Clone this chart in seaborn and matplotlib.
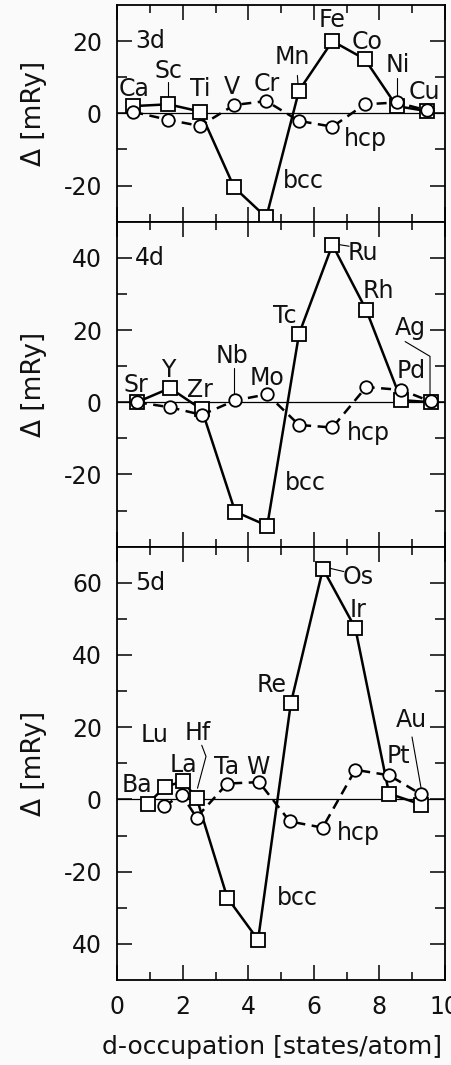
import matplotlib
matplotlib.use("Agg")
import matplotlib.pyplot as plt
import seaborn as sns

# ---------------- data ----------------
el3d = ["Ca", "Sc", "Ti", "V", "Cr", "Mn", "Fe", "Co", "Ni", "Cu"]
x3d = [0.49, 1.56, 2.53, 3.57, 4.55, 5.55, 6.57, 7.56, 8.53, 9.47]
bcc3d = [2.0, 2.5, 0.5, -20.5, -28.8, 6.3, 20.0, 15.0, 2.0, 0.6]
hcp3d = [0.4, -1.8, -3.5, 2.3, 3.4, -2.1, -3.7, 2.5, 3.0, 0.8]

el4d = ["Sr", "Y", "Zr", "Nb", "Mo", "Tc", "Ru", "Rh", "Pd", "Ag"]
x4d = [0.6, 1.61, 2.58, 3.6, 4.58, 5.55, 6.57, 7.6, 8.67, 9.57]
bcc4d = [0.0, 3.9, -2.0, -30.3, -34.2, 18.9, 43.6, 25.6, 0.6, 0.0]
hcp4d = [0.0, -1.4, -3.5, 0.5, 2.2, -6.3, -7.0, 4.2, 3.4, 0.2]

el5d = ["Ba", "Lu", "La", "Hf", "Ta", "W", "Re", "Os", "Ir", "Pt", "Au"]
x5d = [0.93, 1.46, 2.0, 2.42, 3.36, 4.3, 5.3, 6.28, 7.27, 8.3, 9.28]
bcc5d = [-1.2, 3.5, 5.0, 0.5, -27.2, -38.9, 26.6, 63.9, 47.4, 1.6, -1.4]
x5d_hcp = [1.43, 1.97, 2.42, 3.36, 4.33, 5.27, 6.27, 7.27, 8.3, 9.28]
hcp5d = [-1.9, 1.3, -5.0, 4.4, 4.8, -6.1, -7.8, 8.2, 6.7, 1.4]

panel_names = ["3d", "4d", "5d"]
ylims = [(-30, 30), (-40, 50), (-50, 70)]
ymajor = [[-20, 0, 20], [-20, 0, 20, 40], [-40, -20, 0, 20, 40, 60]]
ymajor_labels = [["-20", "0", "20"], ["-20", "0", "20", "40"],
                 ["40", "-20", "0", "20", "40", "60"]]
yminor = [[-10, 10], [-30, -10, 10, 30], [-30, -10, 10, 30, 50]]
xticks = [0, 2, 4, 6, 8, 10]
xminor = [1, 3, 5, 7, 9]

# label placement (layout)
labels = [
    {"Ca": (0.52, 6.6), "Sc": (1.55, 11.6), "Ti": (2.53, 6.6), "V": (3.5, 7.4),
     "Cr": (4.57, 8.0), "Mn": (5.34, 15.7), "Fe": (6.56, 25.9), "Co": (7.62, 19.8),
     "Ni": (8.57, 13.5), "Cu": (9.37, 5.8)},
    {"Sr": (0.58, 4.7), "Y": (1.55, 8.9), "Zr": (2.53, 3.3), "Nb": (3.5, 12.8),
     "Mo": (4.57, 6.7), "Tc": (5.12, 23.9), "Ru": (7.5, 41.4), "Rh": (7.96, 30.8),
     "Pd": (8.99, 8.6), "Ag": (8.94, 20.6)},
    {"Ba": (0.6, 3.9), "Lu": (1.15, 17.8), "La": (2.01, 9.4), "Hf": (2.47, 18.3),
     "Ta": (3.35, 8.9), "W": (4.3, 8.9), "Re": (4.72, 31.7), "Os": (7.35, 61.7),
     "Ir": (7.35, 52.5), "Pt": (8.58, 11.9), "Au": (8.99, 21.9)},
]
leaders = [
    [[(1.55, 8.8), (1.55, 4.6)], [(5.5, 10.5), (5.52, 8.0)], [(8.53, 9.8), (8.53, 4.8)]],
    [[(3.55, 9.5), (3.55, 2.2)], [(6.8, 43.6), (7.08, 43.2)],
     [(8.79, 16.8), (9.55, 12.7), (9.55, 2.0)]],
    [[(6.5, 64.0), (6.92, 63.1)], [(9.0, 17.3), (9.28, 3.0)],
     [(2.58, 15.0), (2.71, 11.9), (2.45, 3.1)]],
]
bcc_pos = [(5.67, -18.7), (5.73, -22.5), (5.49, -27.2)]
hcp_pos = [(7.57, -7.2), (7.66, -8.6), (7.35, -9.4)]
name_pos = [20, 40, 60]

# ---------------- style ----------------
sns.set_style("ticks")
plt.rcParams["font.family"] = ["DejaVu Sans"]
bg = "#fafafa"
FS = 17

fig = plt.figure(figsize=(4.51, 10.65), dpi=100, facecolor=bg)
W, H = 451, 1065
gs = fig.add_gridspec(3, 1, height_ratios=[60, 90, 120], hspace=0,
                      left=117.25 / W, right=444.75 / W,
                      top=1 - 5 / H, bottom=1 - 980 / H)

series = [(x3d, bcc3d, x3d, hcp3d), (x4d, bcc4d, x4d, hcp4d),
          (x5d, bcc5d, x5d_hcp, hcp5d)]

for i in range(3):
    ax = fig.add_subplot(gs[i])
    ax.set_facecolor(bg)
    xb, yb, xh, yh = series[i]
    ax.axhline(0, color="black", lw=0.9, zorder=1)
    sns.lineplot(x=xb, y=yb, ax=ax, sort=False, color="black", lw=1.8,
                 marker="s", markersize=9.5, markerfacecolor="white",
                 markeredgecolor="black", markeredgewidth=1.3, zorder=3)
    sns.lineplot(x=xh, y=yh, ax=ax, sort=False, color="black", lw=1.8,
                 linestyle=(0, (4, 2.6)),
                 marker="o", markersize=9, markerfacecolor="white",
                 markeredgecolor="black", markeredgewidth=1.3, zorder=4)
    ax.set_xlim(0, 10)
    ax.set_ylim(*ylims[i])
    ax.set_xticks(xticks)
    ax.set_xticks(xminor, minor=True)
    ax.set_yticks(ymajor[i], labels=ymajor_labels[i])
    ax.set_yticks(yminor[i], minor=True)
    ax.tick_params(which="both", direction="in", top=True, right=True,
                   bottom=True, left=True, width=1.1, labelsize=FS, pad=11,
                   color="black", labelcolor="#111111")
    ax.tick_params(axis="y", which="major", length=11)
    ax.tick_params(axis="y", which="minor", length=7)
    ax.tick_params(axis="x", which="major", length=11)
    ax.tick_params(axis="x", which="minor", length=6)
    if i < 2:
        ax.tick_params(axis="x", labelbottom=False)
    for sp in ax.spines.values():
        sp.set_linewidth(1.3)
        sp.set_color("black")
    ax.set_xlabel("")
    ax.set_ylabel("Δ [mRy]", fontsize=19, color="#111111")
    ax.yaxis.set_label_coords(-0.215, 0.5)

    for name, (lx, ly) in labels[i].items():
        ax.text(lx, ly, name, ha="center", va="center", fontsize=FS,
                color="#111111", zorder=5)
    for seg in leaders[i]:
        ax.plot([p[0] for p in seg], [p[1] for p in seg], color="black",
                lw=0.8, zorder=2)
    ax.text(*bcc_pos[i], "bcc", ha="center", va="center", fontsize=FS,
            color="#111111")
    ax.text(*hcp_pos[i], "hcp", ha="center", va="center", fontsize=FS,
            color="#111111")
    ax.text(0.55, name_pos[i], panel_names[i], ha="left", va="center",
            fontsize=FS, color="#111111")

fig.text(102 / W, 1 - 1047 / H, "d-occupation [states/atom]", ha="left",
         va="center", fontsize=18, color="#111111")

fig.savefig("out.png", dpi=100, facecolor=bg)
